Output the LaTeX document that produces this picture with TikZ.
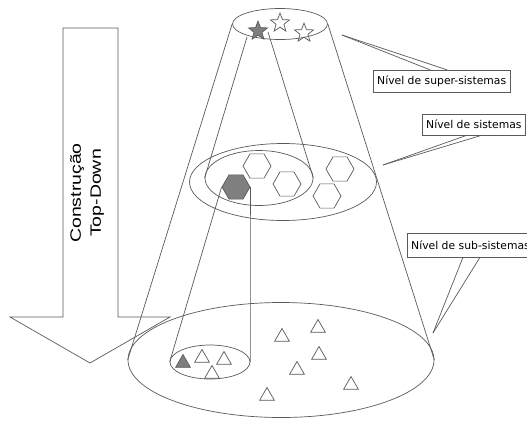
\documentclass[tikz,border=0pt]{standalone}
\usepackage{fontspec}
\setmainfont{Liberation Sans}
\newfontfamily\calloutfont{DejaVu Sans}
\usetikzlibrary{shapes.geometric}
\definecolor{lc}{HTML}{5A5A5A}
\definecolor{dk}{HTML}{7F7F7F}
\begin{document}
\begin{tikzpicture}[x=1pt,y=-1pt,
  ln/.style={draw=lc, line width=0.7pt},
  ell/.style={ellipse, ln, inner sep=0pt},
  hexa/.style={regular polygon, regular polygon sides=6, minimum size=28pt, inner sep=0pt, ln},
  tri/.style={regular polygon, regular polygon sides=3, minimum size=17pt, inner sep=0pt, ln},
  stardot/.style={star, star points=5, star point ratio=2.4, minimum size=20pt, inner sep=0pt, ln},
  darkfill/.style={fill=dk},
  lbl/.style={draw=lc, fill=white, font=\calloutfont\fontsize{10.8}{12}\selectfont, inner xsep=4pt, inner ysep=0pt, minimum height=22pt, text=black, anchor=west}
]
\path[use as bounding box, clip] (0,0) rectangle (527,421);
\fill[white] (0,0) rectangle (527,421);

% big arrow
\draw[ln] (63,28) -- (118,28) -- (118,317) -- (170,317) -- (90,363) -- (10,317) -- (63,317) -- cycle;
\node[rotate=90, align=center, font=\fontsize{15}{20}\selectfont] (arrowtxt) at (87,193)
  {\scalebox{1.3}[1]{Construção}\\\scalebox{1.3}[1]{Top-Down}};

% ellipses
\node[ell, minimum width=95pt, minimum height=31pt] (top) at (280,24) {};
\node[ell, minimum width=187pt, minimum height=77pt] (mid) at (283,182) {};
\node[ell, minimum width=108pt, minimum height=55pt] (inn) at (259,178) {};
\node[ell, minimum width=306pt, minimum height=115pt] (bot) at (281,360) {};
\node[ell, minimum width=80pt, minimum height=34pt] (sml) at (210,362) {};

% cone
\draw[ln] (top.west) -- (bot.west);
\draw[ln] (top.east) -- (bot.east);

% stars
\node[stardot, darkfill] (s1) at (258,31) {};
\node[stardot] (s2) at (280,23) {};
\node[stardot] (s3) at (304,33) {};

% tube from star to inner ellipse
\coordinate (ta) at (247,37);
\coordinate (tb) at (268,32);
\draw[ln] (ta) -- (inn.west);
\draw[ln] (tb) -- (inn.east);

% hexagons
\node[hexa, darkfill] (h0) at (236,187) {};
\node[hexa] (h1) at (257,166) {};
\node[hexa] (h2) at (287,184) {};
\node[hexa] (h3) at (340,169) {};
\node[hexa] (h4) at (327,196) {};

% tube from hexagon to small ellipse
\draw[ln] (h0.west) -- (sml.west);
\draw[ln] (h0.east) -- (sml.east);

% triangles
\node[tri, darkfill] (t0) at (183,363) {};
\node[tri] (t1) at (202,358) {};
\node[tri] (t2) at (224,360) {};
\node[tri] (t3) at (212,374) {};
\node[tri] (t4) at (282,337) {};
\node[tri] (t5) at (318,328) {};
\node[tri] (t6) at (319,355) {};
\node[tri] (t7) at (297,370) {};
\node[tri] (t8) at (267,396) {};
\node[tri] (t9) at (351,385) {};

% callouts
\coordinate (c1) at (342,35);
\coordinate (c2) at (383,165);
\coordinate (c3) at (433,333);
\node[lbl] (b1) at (373,81) {Nível de super-sistemas};
\node[lbl, minimum height=21pt] (b2) at (422,124.5) {Nível de sistemas};
\node[lbl, minimum height=24pt] (b3) at (407,245) {Nível de sub-sistemas};
\draw[ln] (c1) -- ([xshift=57pt]b1.north west);
\draw[ln] (c1) -- ([xshift=74pt]b1.north west);
\draw[ln] (c2) -- ([xshift=45pt]b2.south west);
\draw[ln] (c2) -- ([xshift=60pt]b2.south west);
\draw[ln] (c3) -- ([xshift=56pt]b3.south west);
\draw[ln] (c3) -- ([xshift=73pt]b3.south west);
\end{tikzpicture}
\end{document}
